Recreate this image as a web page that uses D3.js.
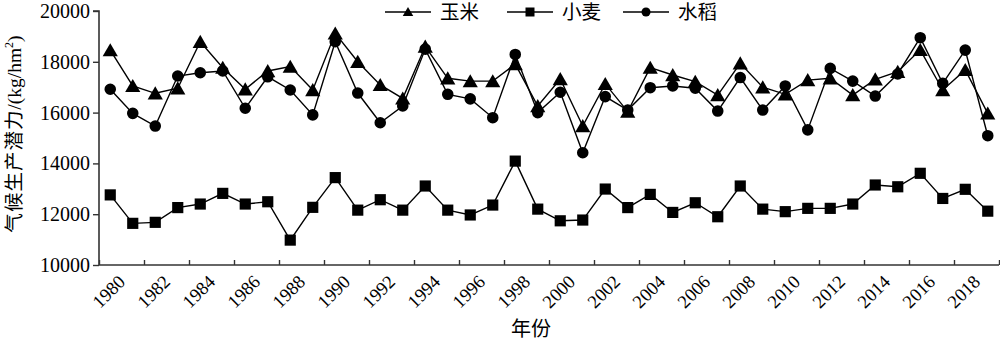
<!DOCTYPE html>
<html><head><meta charset="utf-8">
<script src="https://cdn.jsdelivr.net/npm/d3@7"></script>
<style>body{margin:0;background:#fff}svg{display:block}</style>
</head><body>
<svg id="c" width="1000" height="341"></svg>
<script>
const years = d3.range(1980, 2020);
const maize = [18460,17050,16760,16960,18790,17770,16920,17640,17810,16890,19120,18000,17090,16560,18600,17350,17240,17240,17910,16260,17320,15470,17130,16040,17770,17480,17220,16690,17940,17000,16720,17280,17350,16690,17310,17610,18470,16890,17680,15970];
const wheat = [12760,11640,11680,12260,12400,12820,12400,12490,10980,12270,13440,12160,12570,12160,13110,12160,11970,12360,14090,12200,11740,11770,12990,12260,12780,12070,12450,11900,13110,12200,12100,12230,12230,12400,13150,13080,13610,12620,12980,12120];
const rice = [16920,15970,15470,17440,17570,17640,16170,17410,16890,15910,18790,16770,15600,16260,18500,16720,16540,15800,18290,16000,16800,14420,16630,16100,16980,17050,16960,16060,17380,16100,17050,15320,17740,17240,16650,17520,18950,17150,18460,15090];
const yTicks = [10000,12000,14000,16000,18000,20000];
const seriesNames = ["玉米","小麦","水稻"];
const xTitle = "年份";
const yTitleCJK = "气候生产潜力";
const yTitleUnit = "/(kg/hm";

const svg = d3.select("#c");
const L = 99, R = 999, T = 11, B = 265;
const x = d3.scaleLinear().domain([0, years.length]).range([L, R]);
const y = d3.scaleLinear().domain([10000, 20000]).range([B, T]);
const serif = "'Liberation Serif','Times New Roman',serif";
const mixed = "'Liberation Serif','Noto Sans CJK SC',serif";

// Y axis
const ya = svg.append("g").attr("transform", `translate(${L},0)`)
  .call(d3.axisLeft(y).tickValues(yTicks).tickSize(6).tickPadding(3).tickFormat(d3.format("d")));
ya.select(".domain").attr("stroke", "#333").attr("stroke-width", 1.6).attr("d", `M-6,${T}H0V${B}`);
ya.selectAll(".tick line").attr("stroke", "#333").attr("stroke-width", 1.4);
ya.selectAll("text").attr("font-family", serif).attr("font-size", 20).attr("fill", "#000");

// X axis
const xa = svg.append("g").attr("transform", `translate(0,${B})`)
  .call(d3.axisBottom(x).tickValues(d3.range(0, years.length + 1, 2)).tickSize(-5).tickFormat(""));
xa.select(".domain").attr("stroke", "#333").attr("stroke-width", 1.6).attr("d", `M${L},0H${R}`);
xa.selectAll(".tick line").attr("stroke", "#333").attr("stroke-width", 1.4);

svg.append("g").selectAll("text").data(years.filter((d, i) => i % 2 === 0)).join("text")
  .attr("transform", d => `translate(${x(years.indexOf(d) + 0.5) + 16},${B + 18}) rotate(-45)`)
  .attr("text-anchor", "end")
  .attr("font-family", serif).attr("font-size", 18.5).text(d => d);

svg.append("text").attr("x", 531).attr("y", 336).attr("text-anchor", "middle")
  .attr("font-family", mixed).attr("font-size", 20).text(xTitle);

const yt = svg.append("text").attr("transform", `translate(21,${134}) rotate(-90)`)
  .attr("text-anchor", "middle").attr("font-family", mixed).attr("font-size", 19.5);
yt.append("tspan").attr("letter-spacing", 1).text(yTitleCJK);
yt.append("tspan").text(yTitleUnit);
yt.append("tspan").attr("font-size", 12).attr("dy", -8).text("2");
yt.append("tspan").attr("dy", 8).text(")");

// Symbols
const sym = {
  "玉米": d3.symbol().type(d3.symbolTriangle).size(100),
  "小麦": d3.symbol().type(d3.symbolSquare).size(125),
  "水稻": d3.symbol().type(d3.symbolCircle).size(105)
};
const symL = {
  "玉米": d3.symbol().type(d3.symbolTriangle).size(48),
  "小麦": d3.symbol().type(d3.symbolSquare).size(81),
  "水稻": d3.symbol().type(d3.symbolCircle).size(64)
};
const data = [maize, wheat, rice];
const line = d3.line().x((d, i) => x(i + 0.5)).y(d => y(d));
data.forEach((vals, k) => {
  const g = svg.append("g");
  g.append("path").attr("d", line(vals)).attr("fill", "none").attr("stroke", "#000").attr("stroke-width", 1.4);
  g.selectAll("path.m").data(vals).join("path").attr("class", "m")
    .attr("transform", (d, i) => `translate(${x(i + 0.5)},${y(d) + (k === 0 ? 1.8 : 0)})`)
    .attr("d", sym[seriesNames[k]]()).attr("fill", "#000");
});

// Legend
const lx = [385, 507, 623];
seriesNames.forEach((n, k) => {
  const g = svg.append("g").attr("transform", `translate(${lx[k]},12)`);
  g.append("line").attr("x1", 0).attr("x2", 46).attr("stroke", "#000").attr("stroke-width", 1.4);
  g.append("path").attr("transform", `translate(23,${k === 0 ? 1 : 0})`).attr("d", symL[n]()).attr("fill", "#000");
  g.append("text").attr("x", 55).attr("y", 7).attr("font-family", mixed).attr("font-size", 19.5).text(n);
});
</script>
</body></html>
